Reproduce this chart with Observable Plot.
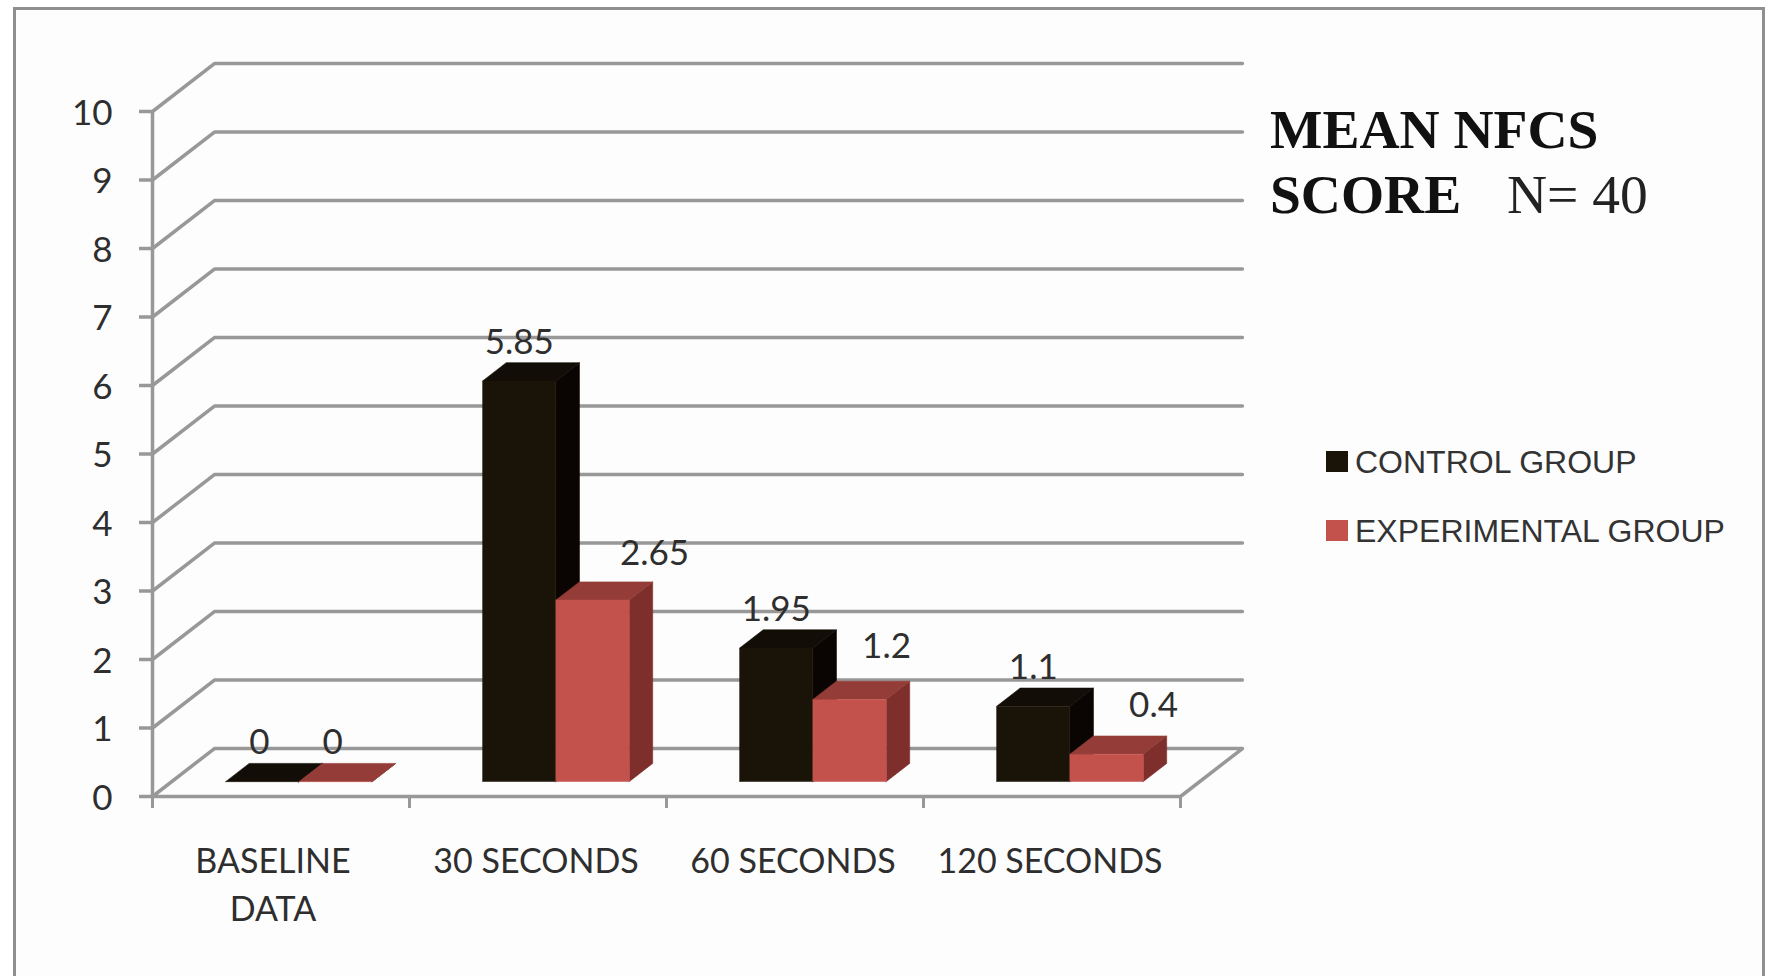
<!DOCTYPE html>
<html>
<head>
<meta charset="utf-8">
<script src="https://cdn.jsdelivr.net/npm/d3@7"></script>
<script src="https://cdn.jsdelivr.net/npm/@observablehq/plot@0.6"></script>
<style>
  html, body { margin: 0; padding: 0; background: #fff; }
  #stage { position: relative; width: 1770px; height: 976px; overflow: hidden; }
  #stage svg { position: absolute; left: 0; top: 0; }
  #frame { position: absolute; left: 13px; top: 7px; width: 1752px; height: 976px; background: #fdfdfd;
           border: 3px solid #8f8f8f; box-sizing: border-box; }
  .heading { position: absolute; left: 1270px; font-family: "Liberation Serif", serif; font-size: 55.5px;
             line-height: 60px; color: #111; font-weight: 700; white-space: nowrap; z-index: 2; }
  .heading.plain { font-weight: 400; color: #222; }
  .key { position: absolute; left: 1326px; font-family: "Liberation Sans", sans-serif; font-size: 32px;
         color: #333; line-height: 36px; white-space: nowrap; z-index: 2; }
  .key i { position: absolute; left: 0; top: 7px; width: 22px; height: 21px; }
  .key b { position: absolute; left: 29px; top: 0; font-weight: 400; }
</style>
</head>
<body>
<div id="stage">
  <div id="frame"></div>
  <div class="heading" style="top:100px">MEAN NFCS</div>
  <div class="heading" style="top:165px">SCORE</div>
  <div class="heading plain" style="top:165px;left:1507px">N= 40</div>
  <div id="legend"></div>
</div>
<script>
// Mean NFCS score by observation time
const categories = ["BASELINE\nDATA", "30 SECONDS", "60 SECONDS", "120 SECONDS"];
const seriesNames = ["CONTROL GROUP", "EXPERIMENTAL GROUP"];
const controlValues = [0, 5.85, 1.95, 1.1];
const experimentalValues = [0, 2.65, 1.2, 0.4];
const yTicks = [0, 1, 2, 3, 4, 5, 6, 7, 8, 9, 10];

// Face shades for the extruded columns
const shades = [
  {front: "#1a1408", top: "#120d06", side: "#0a0502"},
  {front: "#c4524c", top: "#943c37", side: "#7e2f2b"}
];
const gridColor = "#989898";
const inkColor = "#2e2e2e";

// Oblique projection: depth 0 is the front of the floor, depth 1 the back wall
const depthX = 0.241;
const depthY = 0.70;
const at = (x, v, d) => ({x: x + d * depthX, y: v + d * depthY});

// Column placement within a band, and its extent along the depth axis
const gap = 0.21;
const barWidth = 0.285;
const nearDepth = 0.31;
const farDepth = 0.69;

// Wall and floor lines
const grid = yTicks.flatMap((v) => {
  const path = v === 0
    ? [at(0, 0, 1), at(4, 0, 1), at(4, 0, 0), at(0, 0, 0), at(0, 0, 1)]
    : [at(0, v, 0), at(0, v, 1), at(4, v, 1)];
  return path.map((p) => ({...p, id: v}));
});

// Three visible faces of every column, side first and front last
const faces = [];
categories.forEach((_, i) => {
  [controlValues, experimentalValues].forEach((values, s) => {
    const x0 = i + gap + s * barWidth;
    const x1 = x0 + barWidth;
    const v = values[i];
    const polygons = [
      [shades[s].side, [at(x1, 0, nearDepth), at(x1, 0, farDepth), at(x1, v, farDepth), at(x1, v, nearDepth)]],
      [shades[s].top, [at(x0, v, nearDepth), at(x0, v, farDepth), at(x1, v, farDepth), at(x1, v, nearDepth)]],
      [shades[s].front, [at(x0, 0, nearDepth), at(x0, v, nearDepth), at(x1, v, nearDepth), at(x1, 0, nearDepth)]]
    ];
    polygons.forEach(([color, pts], f) => {
      pts.forEach((p) => faces.push({...p, color, id: `${i}-${s}-${f}`}));
    });
  });
});

// Value labels: hand-nudged pixel offsets from the column's front face
const labelFont = {fontFamily: "Lato, sans-serif", fontSize: 35, fill: inkColor};
const nudges = [
  [[-3, -39], [0, -38], [0, -38], [0, -38]],
  [[-3, -39], [62, -46], [37, -53], [47, -48]]
];
const valueLabels = [controlValues, experimentalValues].flatMap((values, s) =>
  values.map((v, i) => Plot.text([v], {
    x: () => at(i + gap + (s + 0.5) * barWidth, 0, nearDepth).x,
    y: (d) => d + nearDepth * depthY,
    text: (d) => String(d),
    dx: nudges[s][i][0],
    dy: nudges[s][i][1],
    ...labelFont
  }))
);

const chart = Plot.plot({
  width: 1770,
  height: 976,
  marginLeft: 152,
  marginRight: 590,
  marginTop: 111,
  marginBottom: 180,
  style: {background: "transparent", overflow: "visible"},
  x: {domain: [0, 4]},
  y: {domain: [0, 10]},
  color: {type: "identity"},
  marks: [
    Plot.line(grid, {x: "x", y: "y", z: "id", stroke: gridColor, strokeWidth: 3.5}),
    Plot.ruleX([0], {y1: 0, y2: 10, stroke: gridColor, strokeWidth: 3.5}),
    Plot.axisY({
      ticks: yTicks, tickSize: 13, tickFormat: () => "", stroke: gridColor, strokeWidth: 3.5, label: null
    }),
    Plot.axisY({
      ticks: yTicks, tickSize: 0, tickPadding: 40, dy: 2, label: null,
      fill: inkColor, fontFamily: "Lato, sans-serif", fontSize: 35
    }),
    Plot.axisX({
      ticks: [0, 1, 2, 3, 4], tickSize: 12, tickFormat: () => "", stroke: gridColor, strokeWidth: 3, label: null
    }),
    Plot.line(faces, {x: "x", y: "y", z: "id", fill: "color", stroke: "color", strokeWidth: 0.6}),
    ...valueLabels,
    Plot.text(categories.slice(0, 1), {
      x: () => 0.5, y: () => 0, text: (d) => d, dx: -8, dy: 43, lineAnchor: "top", lineHeight: 1.4, ...labelFont, fontSize: 34
    }),
    Plot.text(categories.slice(1), {
      x: (d, i) => i + 1.5, y: () => 0, text: (d) => d, dx: -2, dy: 43, lineAnchor: "top", lineHeight: 1.4, ...labelFont, fontSize: 34
    })
  ]
});
document.getElementById("stage").appendChild(chart);

// Legend sits beside the plot
const legend = document.getElementById("legend");
seriesNames.forEach((name, s) => {
  const row = document.createElement("div");
  row.className = "key";
  row.style.top = `${444 + s * 69}px`;
  row.innerHTML = `<i style="background:${shades[s].front}"></i><b>${name}</b>`;
  legend.appendChild(row);
});
</script>
</body>
</html>
